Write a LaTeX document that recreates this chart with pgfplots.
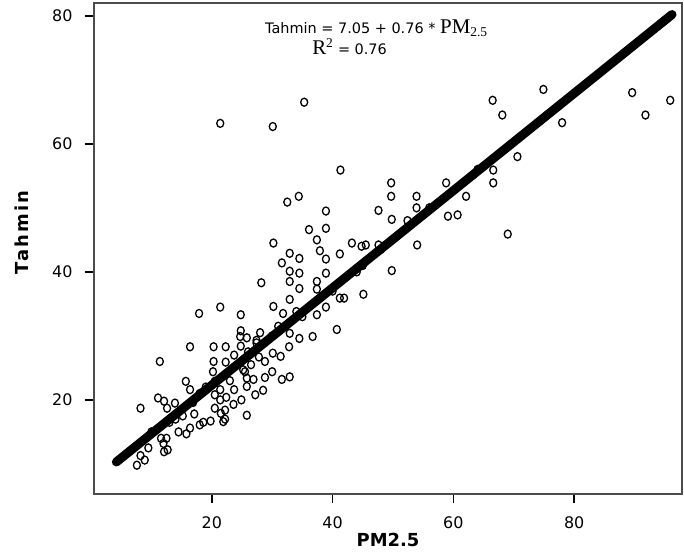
\documentclass[border=0pt]{standalone}
\usepackage{fontspec}
\setmainfont{DejaVu Sans}
\newfontfamily\serifx{Liberation Serif}
\usepackage{pgfplots}
\pgfplotsset{compat=1.18}
\begin{document}
\begin{tikzpicture}
\path[use as bounding box] (-94bp,-58bp) rectangle (590bp,494bp);
\begin{axis}[
  scale only axis,
  width=588bp, height=491bp,
  xmin=0.5, xmax=97.85, ymin=5.3, ymax=82.0,
  xtick={20,40,60,80}, ytick={20,40,60,80},
  xtick pos=bottom, ytick pos=left,
  tick align=outside,
  major tick length=9bp,
  every tick/.style={black, line width=1.6bp},
  axis line style={draw=black!70, line width=1.3bp},
  /pgf/number format/assume math mode=true,
  tick label style={font=\fontsize{16}{18}\selectfont},
  xticklabel style={yshift=-10bp},
  yticklabel style={xshift=-9bp},
  xlabel={PM2.5},
  ylabel={Tahmin},
  xlabel style={at={(axis description cs:0.5,0)}, anchor=center, yshift=-46bp,
    font=\fontsize{18}{20}\selectfont\bfseries},
  ylabel style={at={(axis description cs:0,0.5)}, anchor=center, yshift=72bp, xshift=16bp,
    font=\fontsize{18}{20}\selectfont\bfseries\addfontfeature{LetterSpace=12}},
  clip=true,
]
\addplot[only marks, mark=o, mark size=3.5bp, mark options={line width=1.3bp, yscale=1.15, black}] coordinates {
(21.4,63.2) (30.1,62.7) (35.3,66.5) (41.3,55.9) (49.7,53.9) (49.7,51.8)
(34.4,51.8) (32.5,50.9) (53.9,51.8) (53.9,50.0) (38.9,49.5) (47.6,49.6)
(74.9,68.5) (66.5,66.8) (68.1,64.5) (78.0,63.3) (89.6,68.0) (95.9,66.8)
(91.8,64.5) (70.6,58.0) (66.6,55.9) (66.6,53.9) (69.0,45.9) (58.8,53.9)
(62.1,51.8) (59.1,48.7) (60.7,48.9) (52.4,48.0) (54.0,44.2) (49.8,48.2)
(49.8,40.2) (36.1,46.6) (38.9,46.8) (37.4,45.0) (30.2,44.5) (32.9,42.9)
(34.5,42.1) (31.6,41.4) (37.9,43.3) (38.9,42.0) (41.2,42.8) (43.2,44.5)
(44.8,44.0) (45.5,44.2) (47.6,44.2) (32.9,40.1) (34.5,39.8) (38.9,39.8)
(32.9,38.5) (34.5,37.4) (37.4,38.5) (37.4,37.3) (28.2,38.3) (32.9,35.7)
(30.2,34.6) (31.8,33.5) (41.2,35.9) (41.9,35.9) (45.1,36.5) (38.9,34.5)
(37.4,33.3) (40.7,31.0) (36.7,29.9) (34.5,29.6) (32.9,30.4) (17.9,33.5)
(21.4,34.5) (24.8,33.3) (24.8,30.8) (25.8,29.7) (27.4,29.3) (11.4,26.0)
(8.2,18.7) (16.4,28.3) (20.3,28.3) (22.3,28.3) (24.8,28.4) (27.4,28.9)
(20.3,26.0) (22.3,25.9) (23.7,27.0) (20.2,24.4) (25.2,24.7) (25.8,23.4)
(26.9,23.2) (28.8,26.0) (30.1,27.3) (31.4,26.8) (28.8,23.5) (30.0,24.4)
(31.6,23.2) (32.9,23.6) (32.8,28.3) (15.7,22.9) (16.4,21.6) (17.1,17.8)
(14.5,15.0) (15.8,14.7) (16.4,15.6) (18.0,16.1) (18.6,16.5) (19.8,16.7)
(21.4,20.0) (22.4,20.4) (21.5,17.9) (22.2,17.0) (23.6,19.3) (24.9,20.0)
(25.8,17.6) (21.4,21.6) (23.7,21.6) (16.9,19.6) (11.1,20.3) (12.1,19.8)
(12.6,18.7) (13.9,19.5) (11.6,14.0) (12.5,14.0) (12.7,12.2) (12.0,13.2)
(8.9,10.6) (7.6,9.8) (8.2,11.3) (20.5,22.9) (20.5,20.8) (22.2,18.4)
(20.5,18.7) (21.9,16.6) (28.5,21.5) (27.2,20.8) (25.8,22.1) (25.5,24.4)
(24.7,29.9) (12.1,11.9) (26.0,27.5) (35.0,33.0) (44.0,40.0) (48.0,43.5)
(30.0,30.0) (10.0,15.0) (14.0,17.0) (18.0,21.0) (40.0,37.0) (56.0,50.0)
(64.0,56.0) (45.0,41.0) (19.0,22.0) (23.0,23.0) (26.5,25.5) (27.8,26.7)
(13.0,16.5) (9.5,12.5) (15.2,17.5) (28.0,30.5) (31.0,31.5) (34.0,33.8)
};
\addplot[black, line width=9bp, line cap=round] coordinates {(4.2,10.3) (96.2,80.2)};
\node[anchor=base west, inner sep=0pt, font=\fontsize{14.5}{16}\selectfont] at (axis cs:28.8,77.2)
  {Tahmin = 7.05 + 0.76 * {\serifx\fontsize{21}{22}\selectfont PM$_{\mbox{\fontsize{13.5}{14}\selectfont\serifx 2.5}}$}};
\node[anchor=base west, inner sep=0pt, font=\fontsize{14.5}{16}\selectfont] at (axis cs:36.6,73.9)
  {{\serifx\fontsize{21}{22}\selectfont R$^{\mbox{\fontsize{13.5}{14}\selectfont\serifx 2}}$} = 0.76};
\end{axis}
\end{tikzpicture}
\end{document}
